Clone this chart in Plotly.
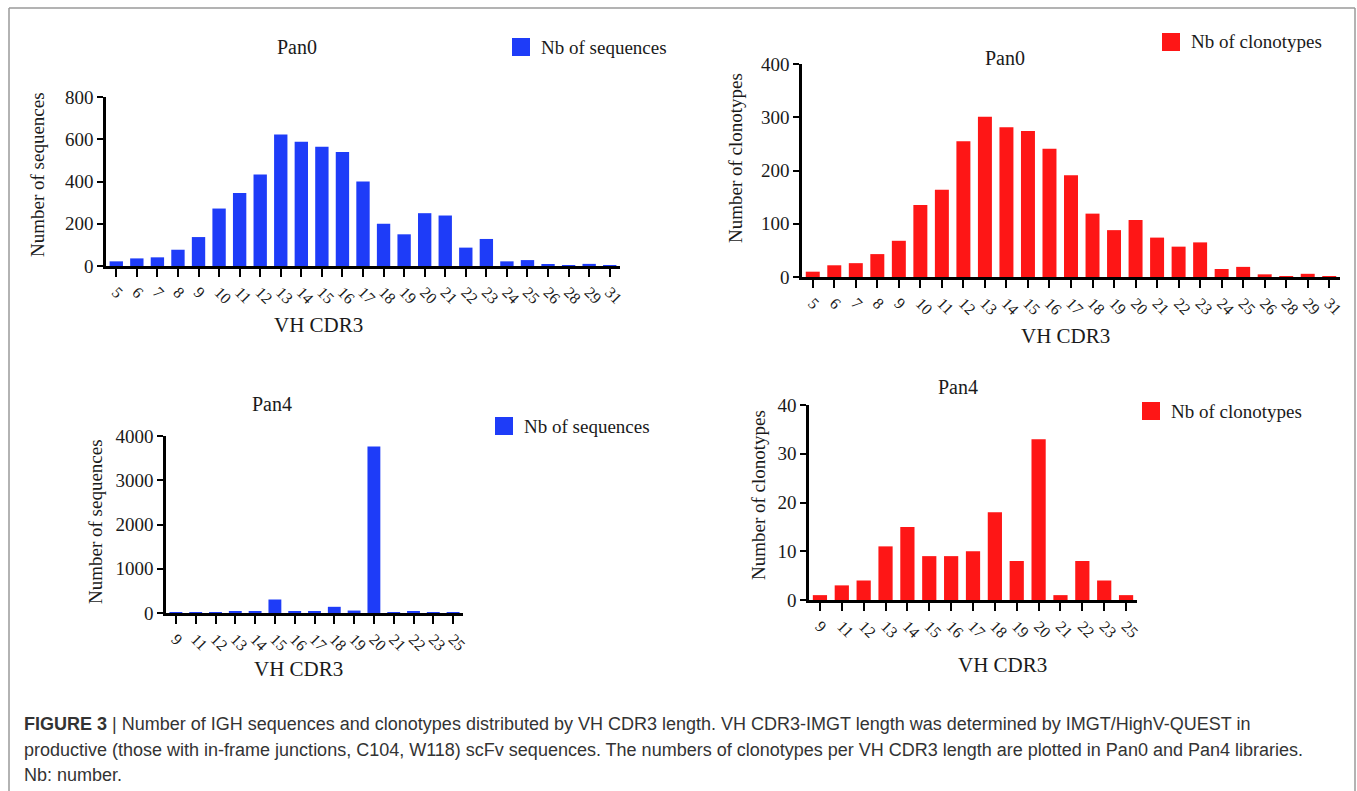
import plotly.graph_objects as go

W, H = 1357, 791

# ---------------- data ----------------
pan0_cdr3 = ["5", "6", "7", "8", "9", "10", "11", "12", "13", "14", "15", "16", "17",
             "18", "19", "20", "21", "22", "23", "24", "25", "26", "28", "29", "31"]
pan0_sequences = [22, 36, 41, 77, 137, 272, 346, 433, 622, 588, 565, 540, 400,
                  200, 150, 250, 239, 87, 128, 22, 28, 5, 3, 10, 1]
pan0_clonotypes = [10, 22, 26, 43, 68, 135, 164, 255, 301, 281, 274, 241, 191,
                   119, 88, 107, 74, 57, 65, 15, 19, 5, 1, 6, 1]

pan4_cdr3 = ["9", "11", "12", "13", "14", "15", "16", "17", "18", "19", "20",
             "21", "22", "23", "25"]
pan4_sequences = [2, 5, 6, 30, 45, 305, 30, 30, 140, 55, 3760, 3, 40, 8, 2]
pan4_clonotypes = [1, 3, 4, 11, 15, 9, 9, 10, 18, 8, 33, 1, 8, 4, 1]

y_ticks_pan0_seq = [0, 200, 400, 600, 800]
y_ticks_pan0_clo = [0, 100, 200, 300, 400]
y_ticks_pan4_seq = [0, 1000, 2000, 3000, 4000]
y_ticks_pan4_clo = [0, 10, 20, 30, 40]

BLUE = "#1E3CF8"
RED = "#FE1616"
SERIF = "Liberation Serif, Times New Roman, serif"
SANS = "Liberation Sans, Arial, sans-serif"
INK = "#1a1a1a"


def px(x):
    return x / W


def py(y):
    return 1 - y / H


panels = [
    dict(cats=pan0_cdr3, vals=pan0_sequences, color=BLUE, yt=y_ticks_pan0_seq,
         xd=(106, 620), yd=(97, 266), title="Pan0", tpos=(297, 47),
         ytitle="Number of sequences", ytpos=(37, 175), xtpos=(318, 325),
         leg="Nb of sequences", lpos=(512, 38)),
    dict(cats=pan0_cdr3, vals=pan0_clonotypes, color=RED, yt=y_ticks_pan0_clo,
         xd=(802, 1340), yd=(64, 277), title="Pan0", tpos=(1005, 58),
         ytitle="Number of clonotypes", ytpos=(735, 158), xtpos=(1065, 336),
         leg="Nb of clonotypes", lpos=(1162, 33)),
    dict(cats=pan4_cdr3, vals=pan4_sequences, color=BLUE, yt=y_ticks_pan4_seq,
         xd=(166, 463), yd=(436, 613), title="Pan4", tpos=(272, 404),
         ytitle="Number of sequences", ytpos=(95, 522), xtpos=(298, 669),
         leg="Nb of sequences", lpos=(495, 417)),
    dict(cats=pan4_cdr3, vals=pan4_clonotypes, color=RED, yt=y_ticks_pan4_clo,
         xd=(809, 1137), yd=(405, 600), title="Pan4", tpos=(958, 387),
         ytitle="Number of clonotypes", ytpos=(758, 495), xtpos=(1003, 665),
         leg="Nb of clonotypes", lpos=(1142, 402)),
]

fig = go.Figure()
annotations = []
shapes = []

for i, p in enumerate(panels, start=1):
    xa = "x" if i == 1 else f"x{i}"
    ya = "y" if i == 1 else f"y{i}"
    fig.add_trace(go.Bar(x=p["cats"], y=p["vals"], marker=dict(color=p["color"], line=dict(width=0)),
                         xaxis=xa, yaxis=ya, showlegend=False, name=p["leg"]))
    xkey = "xaxis" if i == 1 else f"xaxis{i}"
    ykey = "yaxis" if i == 1 else f"yaxis{i}"
    n = len(p["cats"])
    fig.update_layout(**{
        xkey: dict(domain=[px(p["xd"][0]), px(p["xd"][1])], anchor=ya,
                   type="category", range=[-0.5, n - 0.5], automargin=False,
                   showline=True, linecolor="black", linewidth=2.5,
                   ticks="outside", ticklen=8, tickwidth=2, tickcolor="black",
                   tickangle=45, tickfont=dict(family=SERIF, size=16, color=INK),
                   showgrid=False, zeroline=False, fixedrange=True),
        ykey: dict(domain=[py(p["yd"][1]), py(p["yd"][0])], anchor=xa,
                   range=[0, p["yt"][-1]], tickvals=p["yt"], automargin=False,
                   showline=True, linecolor="black", linewidth=2.5,
                   ticks="outside", ticklen=6, tickwidth=2, tickcolor="black",
                   tickfont=dict(family=SERIF, size=19, color=INK),
                   showgrid=False, zeroline=False, fixedrange=True),
    })
    annotations.append(dict(text=p["title"], x=px(p["tpos"][0]), y=py(p["tpos"][1]),
                            xref="paper", yref="paper", showarrow=False,
                            xanchor="center", yanchor="middle",
                            font=dict(family=SERIF, size=20, color=INK)))
    annotations.append(dict(text=p["ytitle"], x=px(p["ytpos"][0]), y=py(p["ytpos"][1]),
                            xref="paper", yref="paper", showarrow=False, textangle=-90,
                            xanchor="center", yanchor="middle",
                            font=dict(family=SERIF, size=19, color=INK)))
    annotations.append(dict(text="VH CDR3", x=px(p["xtpos"][0]), y=py(p["xtpos"][1]),
                            xref="paper", yref="paper", showarrow=False,
                            xanchor="center", yanchor="middle",
                            font=dict(family=SERIF, size=21, color=INK)))
    lx, ly = p["lpos"]
    shapes.append(dict(type="rect", xref="paper", yref="paper",
                       x0=px(lx), x1=px(lx + 18), y0=py(ly + 18), y1=py(ly),
                       fillcolor=p["color"], line=dict(width=0)))
    annotations.append(dict(text=p["leg"], x=px(lx + 27), y=py(ly + 9),
                            xref="paper", yref="paper", showarrow=False,
                            xanchor="left", yanchor="middle",
                            font=dict(family=SERIF, size=19, color=INK)))

# figure frame (top, left, right edges; continues past the bottom)
FRAME = dict(color="#9a9a9a", width=1.5)
shapes.append(dict(type="line", xref="paper", yref="paper", x0=px(9), x1=px(1355),
                   y0=py(8), y1=py(8), line=FRAME))
shapes.append(dict(type="line", xref="paper", yref="paper", x0=px(9), x1=px(9),
                   y0=py(8), y1=0, line=FRAME))
shapes.append(dict(type="line", xref="paper", yref="paper", x0=px(1355), x1=px(1355),
                   y0=py(8), y1=0, line=FRAME))

caption_lines = [
    "<b>FIGURE 3</b> | Number of IGH sequences and clonotypes distributed by VH CDR3 length. "
    "VH CDR3-IMGT length was determined by IMGT/HighV-QUEST in",
    "productive (those with in-frame junctions, C104, W118) scFv sequences. The numbers of "
    "clonotypes per VH CDR3 length are plotted in Pan0 and Pan4 libraries.",
    "Nb: number.",
]
caption_y = [724, 750, 775]
for line, yy in zip(caption_lines, caption_y):
    annotations.append(dict(text=line, x=px(22), y=py(yy), xref="paper", yref="paper",
                            showarrow=False, xanchor="left", yanchor="middle",
                            font=dict(family=SANS, size=18, color="#333333")))

fig.update_layout(width=W, height=H, margin=dict(l=0, r=0, t=0, b=0, autoexpand=False),
                  paper_bgcolor="white", plot_bgcolor="white", showlegend=False,
                  bargap=0.35, annotations=annotations, shapes=shapes)

fig.write_html("out.html", config={"displayModeBar": False},
               post_script="document.body.style.margin='0';document.body.style.overflow='hidden';")
